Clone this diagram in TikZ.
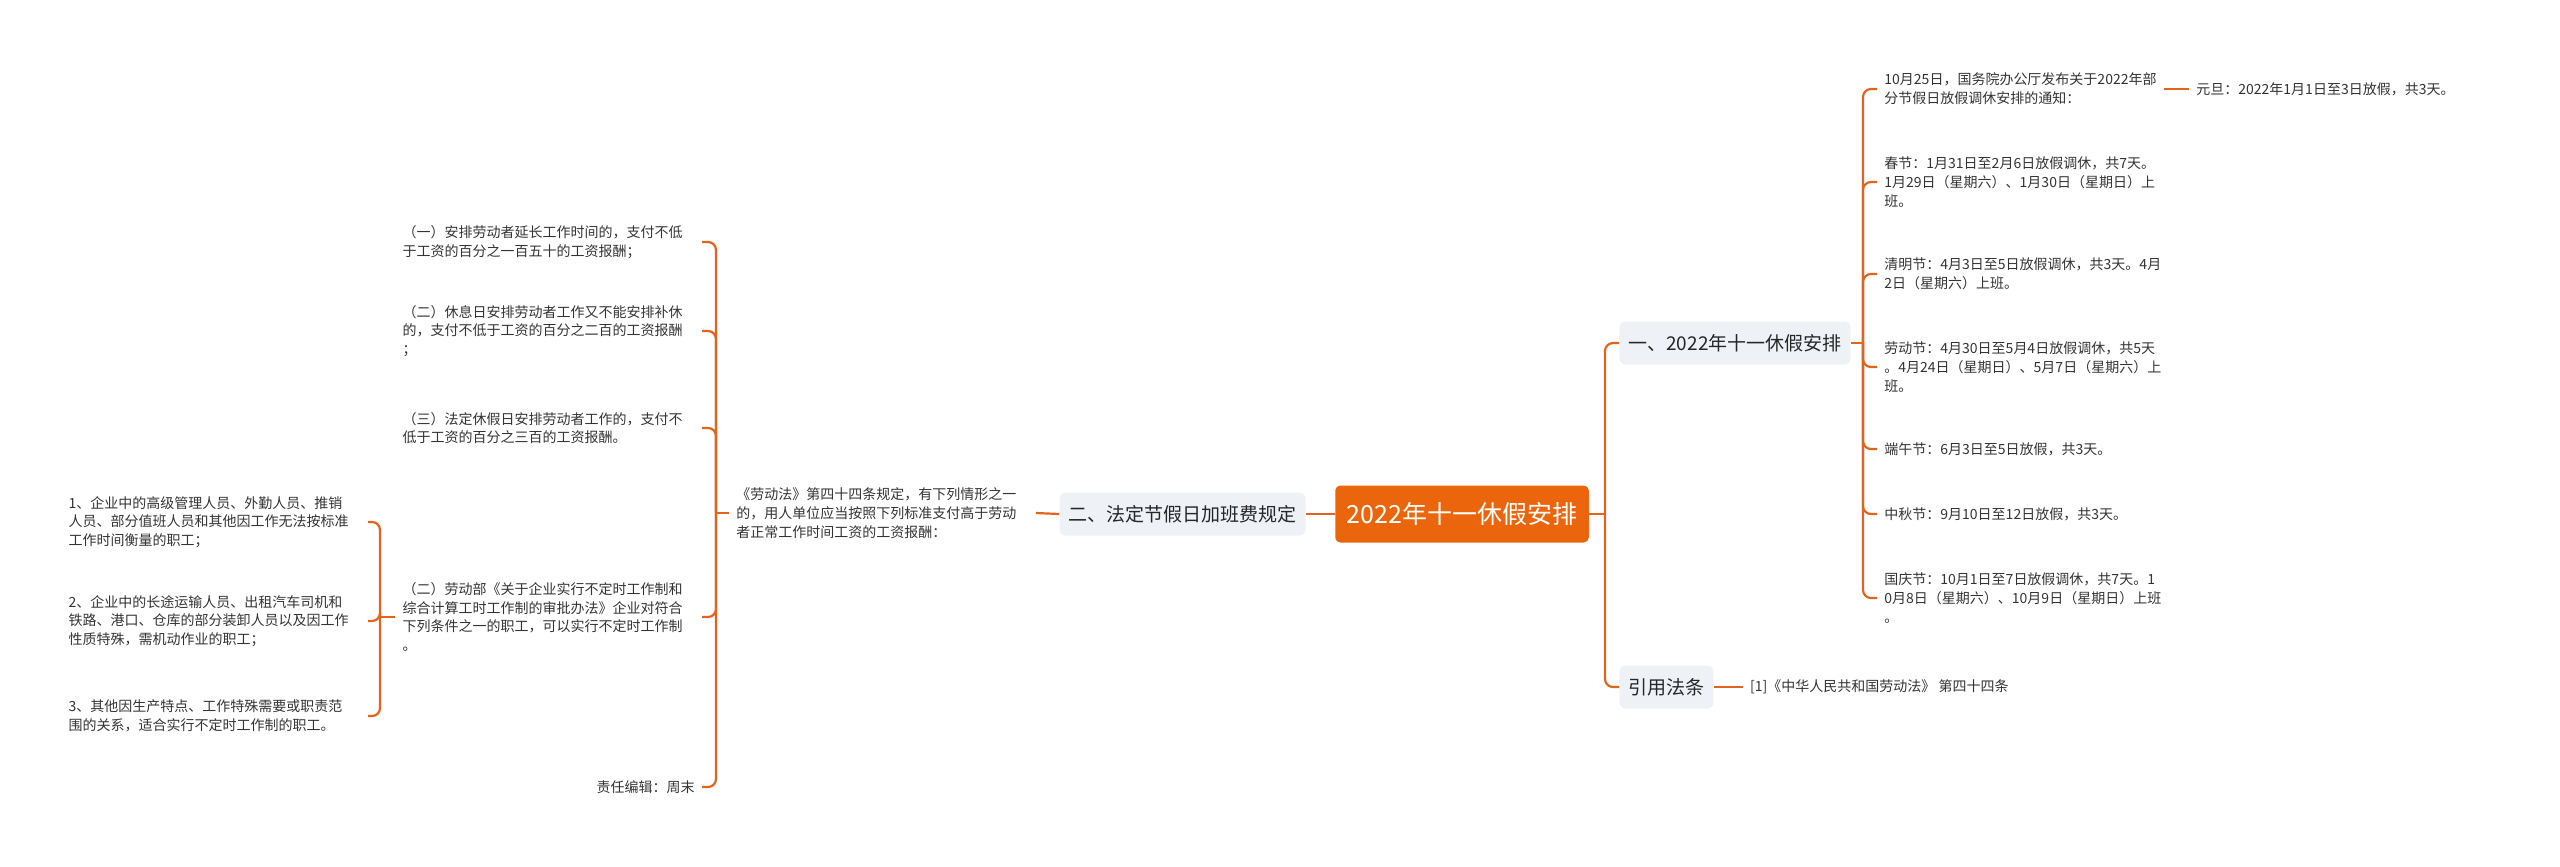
\documentclass[tikz,border=0pt]{standalone}
\usepackage{fontspec}
\setmainfont{Noto Sans CJK SC}
\usepackage{xcolor}
\usepackage{tikz}
\usetikzlibrary{positioning}
\definecolor{linkc}{RGB}{226,99,28}
\definecolor{rootc}{RGB}{235,101,12}
\definecolor{boxc}{RGB}{238,241,245}
\definecolor{txtc}{RGB}{51,51,51}
\tikzset{
root/.style={fill=rootc,text=white,rounded corners=2.5pt,minimum height=28.5pt,inner xsep=5.75pt,font=\fontsize{12.5}{15}\selectfont},
topic/.style={fill=boxc,text=black!85,rounded corners=3pt,minimum height=21.5pt,inner xsep=4.5pt,font=\fontsize{9.5}{12}\selectfont},
leaf/.style={text=txtc,align=left,inner xsep=3.5pt,inner ysep=1pt,font=\fontsize{7}{9.4}\selectfont},
wrapleaf/.style={leaf,text width=146pt},
link/.style={draw=linkc,line width=1.1pt,rounded corners=4pt}
}
\begin{document}
\begin{tikzpicture}[x=0.5pt,y=-0.5pt]
\useasboundingbox (0,0) rectangle (2560,867);
\node[root] (root) at (1462,514) {2022年十一休假安排};
\node[topic,anchor=west] (hol) at (1619,343) {一、2022年十一休假安排};
\node[topic,anchor=west] (cite) at (1619,687) {引用法条};
\node[topic,anchor=east] (pay) at (1306,514) {二、法定节假日加班费规定};
\node[leaf,anchor=west] (notice) at (1877,89) {10月25日，国务院办公厅发布关于2022年部\\分节假日放假调休安排的通知：};
\node[leaf,right=12.5pt of notice] (newyear) {元旦：2022年1月1日至3日放假，共3天。};
\node[leaf,anchor=west] (spring) at (1877,182) {春节：1月31日至2月6日放假调休，共7天。\\1月29日（星期六）、1月30日（星期日）上\\班。};
\node[leaf,anchor=west] (qingming) at (1877,274) {清明节：4月3日至5日放假调休，共3天。4月\\2日（星期六）上班。};
\node[leaf,anchor=west] (labour) at (1877,367) {劳动节：4月30日至5月4日放假调休，共5天\\。4月24日（星期日）、5月7日（星期六）上\\班。};
\node[leaf,anchor=west] (dragon) at (1877,449) {端午节：6月3日至5日放假，共3天。};
\node[leaf,anchor=west] (midautumn) at (1877,514) {中秋节：9月10日至12日放假，共3天。};
\node[leaf,anchor=west] (national) at (1877,598) {国庆节：10月1日至7日放假调休，共7天。1\\0月8日（星期六）、10月9日（星期日）上班\\。};
\node[leaf,right=14.5pt of cite] (law) {[1]《中华人民共和国劳动法》 第四十四条};
\node[wrapleaf,anchor=west] (rule) at (729,513) {《劳动法》第四十四条规定，有下列情形之一\\的，用人单位应当按照下列标准支付高于劳动\\者正常工作时间工资的工资报酬：};
\node[wrapleaf,anchor=east] (over) at (702,242) {（一）安排劳动者延长工作时间的，支付不低\\于工资的百分之一百五十的工资报酬；};
\node[wrapleaf,anchor=east] (rest) at (702,331) {（二）休息日安排劳动者工作又不能安排补休\\的，支付不低于工资的百分之二百的工资报酬\\；};
\node[wrapleaf,anchor=east] (legal) at (702,428) {（三）法定休假日安排劳动者工作的，支付不\\低于工资的百分之三百的工资报酬。};
\node[wrapleaf,anchor=east] (flex) at (702,617) {（二）劳动部《关于企业实行不定时工作制和\\综合计算工时工作制的审批办法》企业对符合\\下列条件之一的职工，可以实行不定时工作制\\。};
\node[leaf,anchor=east] (editor) at (702,787) {责任编辑：周末};
\node[wrapleaf,anchor=east] (staff) at (368,522) {1、企业中的高级管理人员、外勤人员、推销\\人员、部分值班人员和其他因工作无法按标准\\工作时间衡量的职工；};
\node[wrapleaf,anchor=east] (drivers) at (368,621) {2、企业中的长途运输人员、出租汽车司机和\\铁路、港口、仓库的部分装卸人员以及因工作\\性质特殊，需机动作业的职工；};
\node[wrapleaf,anchor=east] (others) at (368,716) {3、其他因生产特点、工作特殊需要或职责范\\围的关系，适合实行不定时工作制的职工。};
\coordinate (jr) at (1605,514);
\coordinate (jh) at (1863,343);
\coordinate (jl) at (716,513);
\coordinate (jf) at (380,617);
\draw[link] (pay.east) -- (root.west);
\draw[link] (rule.east) -- (pay.west);
\draw[link] (root.east) -- (jr);
\draw[link] (jr) |- (hol.west);
\draw[link] (jr) |- (cite.west);
\draw[link] (hol.east) -- (jh);
\foreach \n in {notice,spring,qingming,labour,dragon,midautumn,national}
\draw[link] (jh) |- (\n.west);
\draw[link] (notice.east) -- (newyear.west);
\draw[link] (cite.east) -- (law.west);
\draw[link] (rule.west) -- (jl);
\foreach \n in {over,rest,legal,flex,editor}
\draw[link] (jl) |- (\n.east);
\draw[link] (flex.west) -- (jf);
\foreach \n in {staff,drivers,others}
\draw[link] (jf) |- (\n.east);
\end{tikzpicture}
\end{document}
